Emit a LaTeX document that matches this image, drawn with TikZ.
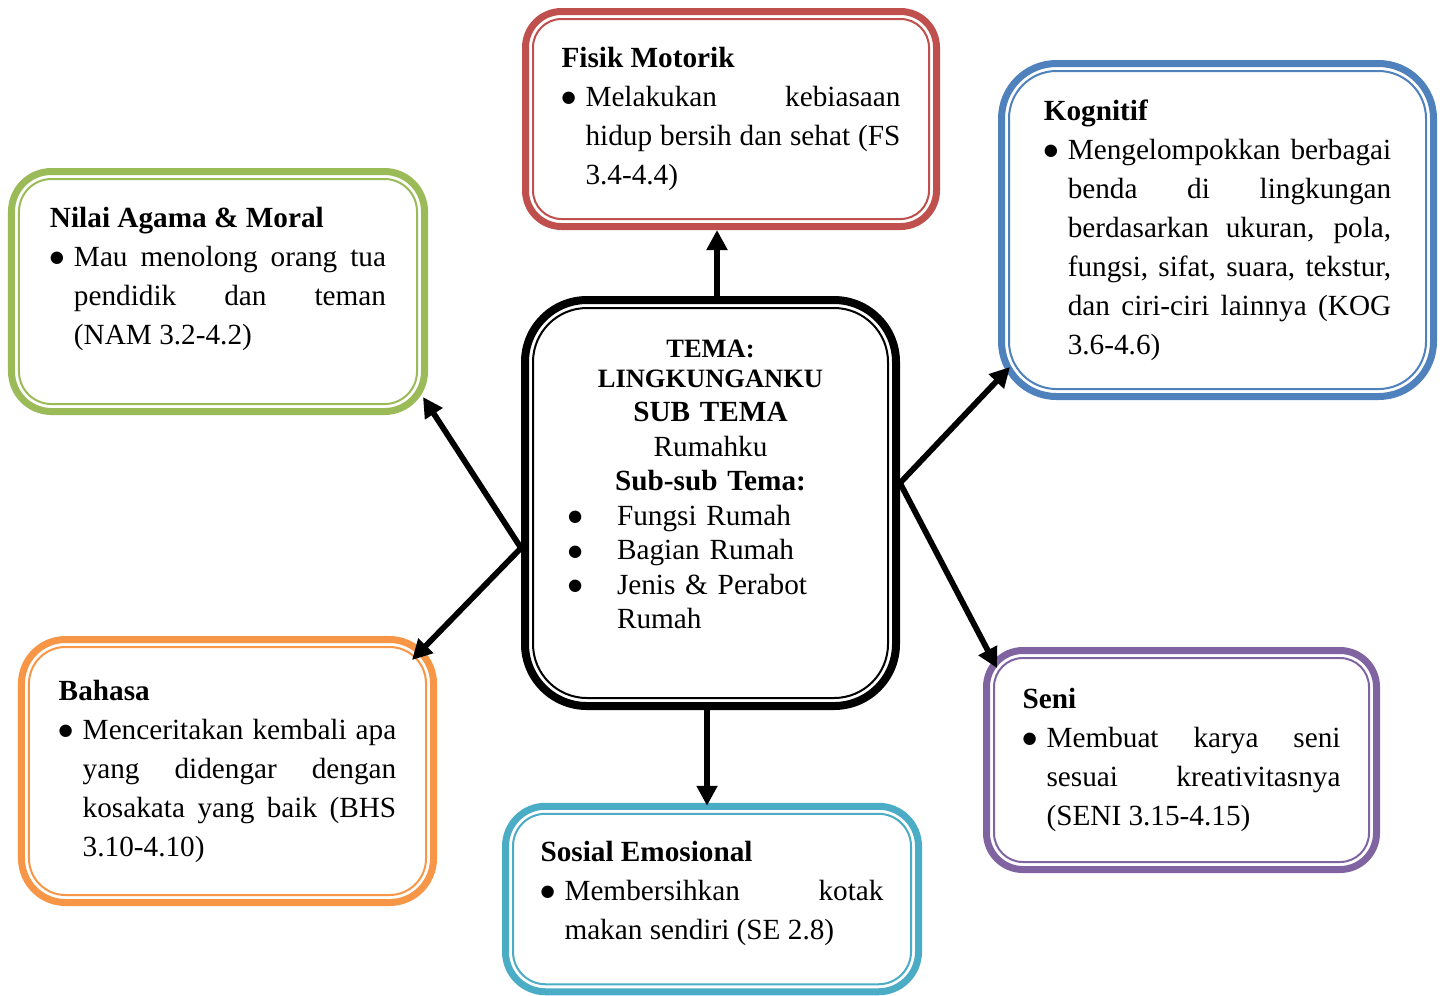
\documentclass[tikz,border=0pt]{standalone}
\usepackage{fontspec}
\setmainfont{Liberation Serif}
\newfontfamily\simbol{DejaVu Sans}
\usepackage{tikz}
\usetikzlibrary{arrows.meta,calc}
\definecolor{merah}{HTML}{C0504D}
\definecolor{biru}{HTML}{4F81BD}
\definecolor{hijau}{HTML}{9BBB59}
\definecolor{oranye}{HTML}{F79646}
\definecolor{ungu}{HTML}{8064A2}
\definecolor{tosca}{HTML}{4BACC6}
\tikzset{ASnode/.style={draw=#1,line width=2.8pt,fill=white,inner sep=0pt,align=justify,
	font=\fontsize{11.7}{15.6}\selectfont}}
\tikzset{TEnode/.style={draw=black,line width=3.2pt,fill=white,inner sep=0pt,align=center,
	font=\fontsize{11.7}{13.8}\selectfont}}
\tikzset{panah/.style={-{Triangle[length=8pt,width=8pt]},line width=2.3pt}}
\newcommand{\bulat}{\raisebox{1.5pt}{\simbol\fontsize{6.5}{6.5}\selectfont ●}}
\newcommand{\butir}[2][9.6pt]{\par\hangindent=#1\hangafter=1\noindent\makebox[#1][l]{\bulat}#2\par}
\newcommand{\ganjal}[1]{\par\vspace*{#1}\hrule height 0pt}
\hyphenpenalty=10000 \exhyphenpenalty=10000 \tolerance=10000 \hbadness=10000

\begin{document}
\begin{tikzpicture}[x=0.4pt,y=-0.4pt]
	\useasboundingbox (0,0) rectangle (1446,995);
	\node[TEnode,minimum width=148.4pt,minimum height=162.4pt,text width=114pt,rounded corners=24.8pt] (tema) at (710.5,503) {%
		{\fontsize{10.6}{12}\selectfont\bfseries TEMA:\\ LINGKUNGANKU\par}
		\textbf{SUB TEMA}\\ Rumahku\\ \textbf{Sub-sub Tema:}\par
		\raggedright
		\butir[19.6pt]{Fungsi Rumah}
		\butir[19.6pt]{Bagian Rumah}
		\butir[19.6pt]{Jenis \& Perabot Rumah}
		\ganjal{14.8pt}};
	\node[ASnode=merah,minimum width=164.4pt,minimum height=86pt,text width=135.6pt,rounded corners=14.4pt] (fisik) at (731,119) {%
		\noindent\textbf{Fisik Motorik}\par
		\butir{Melakukan kebiasaan\linebreak hidup bersih dan sehat (FS\linebreak 3.4-4.4)}};
	\node[ASnode=biru,minimum width=172.8pt,minimum height=133.2pt,text width=139pt,rounded corners=22pt] (kognitif) at (1217.5,230) {%
		\noindent\textbf{Kognitif}\par
		\butir{Mengelompokkan berbagai\linebreak benda di lingkungan\linebreak berdasarkan ukuran, pola,\linebreak fungsi, sifat, suara, tekstur,\linebreak dan ciri-ciri lainnya (KOG\linebreak 3.6-4.6)}};
	\node[ASnode=hijau,minimum width=165.2pt,minimum height=96pt,text width=134.4pt,rounded corners=16pt] (nilai) at (218,291.5) {%
		\noindent\textbf{Nilai Agama \& Moral}\par
		\butir{Mau menolong orang tua\linebreak pendidik dan teman\linebreak (NAM 3.2-4.2)}
		\ganjal{10pt}};
	\node[ASnode=oranye,minimum width=164.8pt,minimum height=105.2pt,text width=135pt,rounded corners=17.6pt] (bahasa) at (227.5,771) {%
		\noindent\textbf{Bahasa}\par
		\butir{Menceritakan kembali apa\linebreak yang didengar dengan\linebreak kosakata yang baik (BHS\linebreak 3.10-4.10)}};
	\node[ASnode=ungu,minimum width=156pt,minimum height=87.6pt,text width=127.2pt,rounded corners=14.6pt] (seni) at (1181.5,760) {%
		\noindent\textbf{Seni}\par
		\butir{Membuat karya seni\linebreak sesuai kreativitasnya\linebreak (SENI 3.15-4.15)}};
	\node[ASnode=tosca,minimum width=165.2pt,minimum height=74.2pt,text width=137.2pt,rounded corners=16pt] (sosial) at (712,899) {%
		\noindent\textbf{Sosial Emosional}\par
		\butir{Membersihkan kotak\linebreak makan sendiri (SE 2.8)}
		\ganjal{4.8pt}};
	% garis tipis di dalam bingkai
	\foreach \n/\c/\r/\m in {tema/black/21.6/4.8, fisik/merah/11.4/4.4, kognitif/biru/19/4.4,
		nilai/hijau/13/4.4, bahasa/oranye/14.6/4.4, seni/ungu/11.6/4.4, sosial/tosca/13/4.4}
		\draw[\c,line width=0.8pt,rounded corners=\r pt] ($(\n.north west)+(\m pt,-\m pt)$) rectangle ($(\n.south east)+(-\m pt,\m pt)$);
	%
	\path[panah]
	($(tema.north)+(6.5,0)$) edge ($(fisik.south)+(-14,0)$)
	($(tema.south)+(-3.5,0)$) edge ($(sosial.north)+(-5,3)$)
	($(tema.west)+(0,45)$) edge ($(nilai.south east)+(-5,-18)$)
	($(tema.west)+(0,45)$) edge ($(bahasa.north east)+(-25,24)$)
	($(tema.east)+(0,-20)$) edge ($(kognitif.south west)+(12,-33)$)
	($(tema.east)+(0,-20)$) edge ($(seni.north west)+(14,21)$);
\end{tikzpicture}
\end{document}
